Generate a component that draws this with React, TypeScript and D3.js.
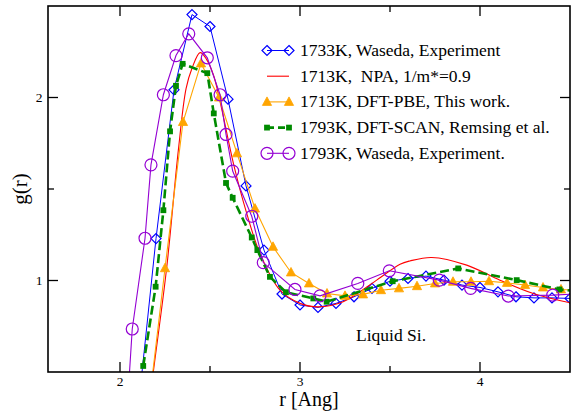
import React from "react";
import * as d3 from "d3";

// ---------- data ----------
const blueR = [2.1, 2.2, 2.3, 2.4, 2.5, 2.6, 2.7, 2.8, 2.9, 3.0, 3.1, 3.2, 3.3, 3.4, 3.5, 3.6, 3.7, 3.8, 3.9, 4.0, 4.1, 4.2, 4.3, 4.4, 4.5];
const blueG = [0.29, 1.229, 2.042, 2.453, 2.388, 1.991, 1.517, 1.166, 0.926, 0.866, 0.853, 0.875, 0.911, 0.957, 0.996, 1.011, 1.024, 1.002, 0.975, 0.962, 0.938, 0.911, 0.905, 0.905, 0.902];

const redR = [2.15, 2.185, 2.26, 2.324, 2.367, 2.40, 2.445, 2.48, 2.52, 2.56, 2.63, 2.70, 2.778, 2.889, 3.0, 3.102, 3.24, 3.426, 3.556, 3.611, 3.732, 3.926, 4.111, 4.296, 4.5];
const redG = [0.23, 0.5, 1.075, 1.711, 2.048, 2.16, 2.245, 2.21, 2.12, 1.96, 1.64, 1.38, 1.147, 0.947, 0.875, 0.856, 0.884, 1.002, 1.089, 1.107, 1.126, 1.084, 1.002, 0.929, 0.878];

const orangeR = [2.15, 2.25, 2.35, 2.45, 2.55, 2.65, 2.75, 2.85, 2.95, 3.05, 3.15, 3.25, 3.35, 3.45, 3.55, 3.65, 3.75, 3.85, 3.95, 4.05, 4.15, 4.25, 4.35, 4.45, 4.55];
const orangeG = [0.23, 1.067, 1.866, 2.186, 2.0, 1.695, 1.393, 1.184, 1.044, 0.984, 0.929, 0.916, 0.924, 0.947, 0.957, 0.969, 0.984, 0.993, 0.993, 0.996, 0.987, 0.975, 0.962, 0.951, 0.945];

const greenR = [2.129, 2.198, 2.241, 2.278, 2.311, 2.348, 2.485, 2.521, 2.589, 2.626, 2.732, 2.763, 2.833, 2.922, 3.074, 3.148, 3.515, 3.879, 4.204, 4.441, 4.55];
const greenG = [0.533, 0.966, 1.384, 1.815, 2.064, 2.184, 2.133, 1.913, 1.533, 1.452, 1.235, 1.166, 1.02, 0.936, 0.902, 0.884, 0.996, 1.066, 1.002, 0.951, 0.94];

const purpleR = [2.04, 2.068, 2.139, 2.172, 2.241, 2.311, 2.382, 2.485, 2.556, 2.589, 2.626, 2.732, 2.796, 2.972, 3.111, 3.321, 3.496, 3.774, 3.948, 4.157, 4.404, 4.6];
const purpleG = [0.3, 0.735, 1.231, 1.632, 2.015, 2.229, 2.348, 2.217, 2.015, 1.798, 1.598, 1.351, 1.098, 0.951, 0.916, 0.984, 1.053, 1.002, 0.957, 0.915, 0.92, 0.93];

const legendLabels = [
  "1733K, Waseda, Experiment",
  "1713K,  NPA, 1/m*=0.9",
  "1713K, DFT-PBE, This work.",
  "1793K, DFT-SCAN, Remsing et al.",
  "1793K, Waseda, Experiment.",
];

const xMajor = [2, 3, 4];
const xMinor = [2.5, 3.5];
const yMajor = [1, 2];
const yMinor = [1.5];

// ---------- layout ----------
const W = 575, H = 412;
const L = 48, R = 570, T = 6, B = 372;
const FONT = "'Liberation Serif', 'Times New Roman', serif";

const BLUE = "#0000ff", RED = "#ff0000", ORANGE = "#ffa500", GREEN = "#008b00", PURPLE = "#9400d3";

type Mk = "diamond" | "none" | "triangle" | "square" | "circle";

function marker(kind: Mk, cx: number, cy: number, color: string, key: string) {
  switch (kind) {
    case "diamond":
      return <path key={key} d={`M${cx},${cy - 5}L${cx + 5},${cy}L${cx},${cy + 5}L${cx - 5},${cy}Z`} fill="none" stroke={color} strokeWidth={1.2} />;
    case "triangle":
      return <path key={key} d={`M${cx},${cy - 5}L${cx + 4.6},${cy + 3.5}L${cx - 4.6},${cy + 3.5}Z`} fill={color} stroke={color} strokeWidth={0.8} />;
    case "square":
      return <rect key={key} x={cx - 2.9} y={cy - 2.9} width={5.8} height={5.8} fill={color} />;
    case "circle":
      return <circle key={key} cx={cx} cy={cy} r={6} fill="none" stroke={color} strokeWidth={1.2} />;
    default:
      return null;
  }
}

export default function App() {
  const x = d3.scaleLinear().domain([1.6, 4.5]).range([L, R]);
  const y = d3.scaleLinear().domain([0.5, 2.5]).range([B, T]);

  const series = [
    { r: blueR, g: blueG, color: BLUE, mk: "diamond" as Mk, width: 1, dash: undefined as string | undefined, smooth: false },
    { r: redR, g: redG, color: RED, mk: "none" as Mk, width: 1.1, dash: undefined, smooth: true },
    { r: orangeR, g: orangeG, color: ORANGE, mk: "triangle" as Mk, width: 1.1, dash: undefined, smooth: false },
    { r: greenR, g: greenG, color: GREEN, mk: "square" as Mk, width: 2.6, dash: "9,4", smooth: false },
    { r: purpleR, g: purpleG, color: PURPLE, mk: "circle" as Mk, width: 1.1, dash: undefined, smooth: false },
  ];

  const lineGen = (smooth: boolean) =>
    d3
      .line<[number, number]>()
      .x((d) => x(d[0]))
      .y((d) => y(d[1]))
      .curve(smooth ? d3.curveCatmullRom.alpha(0.5) : d3.curveLinear);

  const tickW = 1.3;

  return (
    <svg width={W} height={H} style={{ position: "absolute", left: 0, top: 0, background: "#fff" }} fontFamily={FONT}>
      <defs>
        <clipPath id="plotClip">
          <rect x={L} y={T} width={R - L} height={B - T} />
        </clipPath>
      </defs>
      <rect x={0} y={0} width={W} height={H} fill="#fff" />

      <g clipPath="url(#plotClip)">
        {series.map((s, i) => {
          const pts = s.r.map((r, j) => [r, s.g[j]] as [number, number]);
          return (
            <g key={i}>
              <path d={lineGen(s.smooth)(pts) || ""} fill="none" stroke={s.color} strokeWidth={s.width} strokeDasharray={s.dash} />
              {pts.map((p, j) => marker(s.mk, x(p[0]), y(p[1]), s.color, `m${i}-${j}`))}
            </g>
          );
        })}
      </g>

      {/* frame */}
      <rect x={L} y={T} width={R - L} height={B - T} fill="none" stroke="#000" strokeWidth={1.6} />

      {/* x ticks (bottom & top, inward) */}
      {xMajor.map((v) => (
        <g key={`xM${v}`}>
          <line x1={x(v)} x2={x(v)} y1={B} y2={B - 10} stroke="#000" strokeWidth={tickW} />
          <line x1={x(v)} x2={x(v)} y1={T} y2={T + 10} stroke="#000" strokeWidth={tickW} />
          <text x={x(v)} y={385.5} fontSize={13.5} textAnchor="middle" fill="#000">{v}</text>
        </g>
      ))}
      {xMinor.map((v) => (
        <g key={`xm${v}`}>
          <line x1={x(v)} x2={x(v)} y1={B} y2={B - 6} stroke="#000" strokeWidth={tickW} />
          <line x1={x(v)} x2={x(v)} y1={T} y2={T + 6} stroke="#000" strokeWidth={tickW} />
        </g>
      ))}
      {/* y ticks */}
      {yMajor.map((v) => (
        <g key={`yM${v}`}>
          <line x1={L} x2={L + 10} y1={y(v)} y2={y(v)} stroke="#000" strokeWidth={tickW} />
          <line x1={R} x2={R - 10} y1={y(v)} y2={y(v)} stroke="#000" strokeWidth={tickW} />
          <text x={42.5} y={y(v) + 4.7} fontSize={13.5} textAnchor="end" fill="#000">{v}</text>
        </g>
      ))}
      {yMinor.map((v) => (
        <g key={`ym${v}`}>
          <line x1={L} x2={L + 6} y1={y(v)} y2={y(v)} stroke="#000" strokeWidth={tickW} />
          <line x1={R} x2={R - 6} y1={y(v)} y2={y(v)} stroke="#000" strokeWidth={tickW} />
        </g>
      ))}

      {/* axis titles */}
      <text x={(L + R) / 2} y={406} fontSize={20} textAnchor="middle" fill="#000">r [Ang]</text>
      <text transform={`translate(27,${(T + B) / 2}) rotate(-90)`} fontSize={21} textAnchor="middle" fill="#000">g(r)</text>

      {/* legend */}
      {series.map((s, i) => {
        const cy = 50.5 + i * 25.7;
        return (
          <g key={`lg${i}`}>
            <line x1={267} x2={289} y1={cy} y2={cy} stroke={s.color} strokeWidth={s.width} strokeDasharray={s.dash ? "7,4" : undefined} />
            {s.mk !== "none" && marker(s.mk, 267, cy, s.color, `lgA${i}`)}
            {s.mk !== "none" && marker(s.mk, 289, cy, s.color, `lgB${i}`)}
            <text x={300} y={cy + 5.5} fontSize={17.5} fill="#000" style={{ whiteSpace: "pre" }}>{legendLabels[i]}</text>
          </g>
        );
      })}

      <text x={356} y={341} fontSize={17.5} fill="#000">Liquid Si.</text>
    </svg>
  );
}
